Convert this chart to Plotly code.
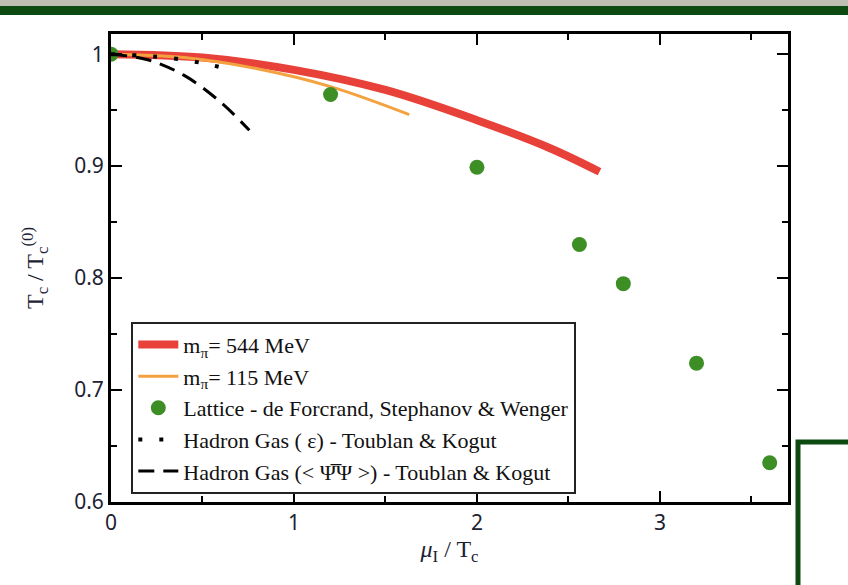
import plotly.graph_objects as go

# Data
red_mu = [0.0, 0.5, 1.0, 1.5, 2.0, 2.4, 2.67]
red_tc = [1.0, 0.997, 0.986, 0.968, 0.941, 0.916, 0.895]
orange_mu = [0.0, 0.4, 0.8, 1.2, 1.63]
orange_tc = [1.0, 0.997, 0.987, 0.971, 0.946]
lat_mu = [0.0, 1.2, 2.0, 2.56, 2.8, 3.2, 3.6]
lat_tc = [1.0, 0.964, 0.899, 0.830, 0.795, 0.724, 0.635]
dot_mu = [0.0, 0.3, 0.5, 0.63]
dot_tc = [1.0, 0.997, 0.992, 0.987]
dash_mu = [0.0, 0.2, 0.4, 0.6, 0.756]
dash_tc = [1.0, 0.995, 0.981, 0.957, 0.932]
x_ticks = [0, 1, 2, 3]
y_ticks = [0.6, 0.7, 0.8, 0.9, 1.0]
y_ticklabels = ["0.6", "0.7", "0.8", "0.9", "1"]

serif = "Liberation Serif, Times New Roman, serif"
sans = "Noto Sans, Open Sans, sans-serif"
green = "#3e8e26"
dark_green = "#0c4a12"
txt = "#1c2233"

fig = go.Figure()
fig.add_trace(go.Scatter(x=red_mu, y=red_tc, mode="lines", name="m<sub>π</sub>= 544 MeV",
                         line=dict(color="#e8413a", width=8, shape="spline")))
fig.add_trace(go.Scatter(x=orange_mu, y=orange_tc, mode="lines", name="m<sub>π</sub>= 115 MeV",
                         line=dict(color="#f4a23f", width=3, shape="spline")))
fig.add_trace(go.Scatter(x=lat_mu, y=lat_tc, mode="markers",
                         name="Lattice - de Forcrand, Stephanov &amp; Wenger",
                         marker=dict(color=green, size=15)))
fig.add_trace(go.Scatter(x=dot_mu, y=dot_tc, mode="lines",
                         name="Hadron Gas ( ε) - Toublan &amp; Kogut",
                         line=dict(color="black", width=4, dash="4px,17px", shape="spline")))
fig.add_trace(go.Scatter(x=dash_mu, y=dash_tc, mode="lines",
                         name="Hadron Gas (&lt; Ψ\u0305Ψ &gt;) - Toublan &amp; Kogut",
                         line=dict(color="black", width=3, dash="16px,9px", shape="spline")))

axis_common = dict(showline=True, linecolor="black", linewidth=3, mirror="ticks",
                   ticks="inside", ticklen=11, tickwidth=2, tickcolor="black",
                   showgrid=False, zeroline=False,
                   tickfont=dict(family=sans, size=21, color=txt))

fig.update_xaxes(range=[0, 3.7], tickvals=x_ticks, ticktext=[str(v) for v in x_ticks],
                 minor=dict(dtick=0.5, tick0=0, ticks="inside", ticklen=6, tickwidth=2,
                            tickcolor="black", showgrid=False),
                 title=dict(text="<i>μ</i><sub>I</sub> / T<sub>c</sub>",
                            font=dict(family=serif, size=24, color=txt), standoff=4),
                 **axis_common)
fig.update_yaxes(range=[0.6, 1.018], tickvals=y_ticks, ticktext=y_ticklabels,
                 minor=dict(dtick=0.05, tick0=0.6, ticks="inside", ticklen=6, tickwidth=2,
                            tickcolor="black", showgrid=False),
                 title=dict(text="T<sub>c</sub> / T<sub>c</sub><sup>(0)</sup>",
                            font=dict(family=serif, size=24, color=txt), standoff=24),
                 **axis_common)

fig.update_layout(
    width=848, height=585,
    margin=dict(l=111, r=60, t=34, b=83),
    plot_bgcolor="white", paper_bgcolor="white",
    legend=dict(x=0.03, y=0.385, xanchor="left", yanchor="top",
                bgcolor="white", bordercolor="#222", borderwidth=2,
                font=dict(family=serif, size=22, color="#111"),
                tracegroupgap=0, itemwidth=40),
    showlegend=True,
)

# Decorative frame elements (pixel-based in paper coords)
pw, ph = 848 - 111 - 60, 585 - 34 - 83
def px(x):
    return (x - 111) / pw
def py(y):
    return (585 - 83 - y) / ph

fig.add_shape(type="rect", xref="paper", yref="paper", x0=px(0), x1=px(848), y0=py(0), y1=py(6),
              fillcolor="#bdbfb3", line=dict(width=0), layer="above")
fig.add_shape(type="rect", xref="paper", yref="paper", x0=px(0), x1=px(848), y0=py(6), y1=py(15),
              fillcolor=dark_green, line=dict(width=0), layer="above")
fig.add_shape(type="rect", xref="paper", yref="paper", x0=px(798), x1=px(860), y0=py(442), y1=py(600),
              fillcolor="rgba(0,0,0,0)", line=dict(color=dark_green, width=5), layer="above")

fig.write_html("out.html")
